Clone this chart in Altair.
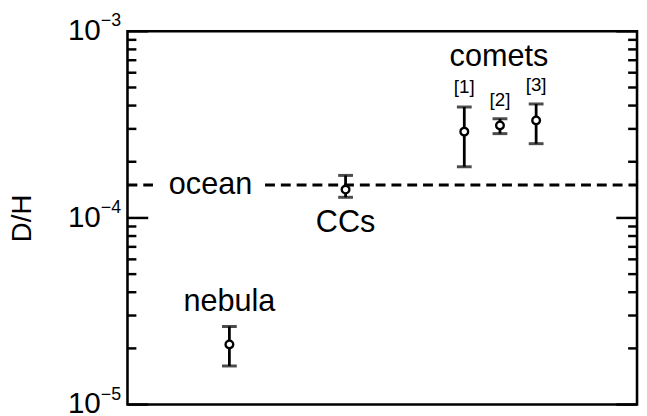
import altair as alt
import pandas as pd

# ---- data ----
names = ["nebula", "CCs", "[1]", "[2]", "[3]"]
xpos = [0.2, 0.428, 0.661, 0.731, 0.802]
dh = [2.1e-5, 1.42e-4, 2.9e-4, 3.13e-4, 3.33e-4]
dh_lo = [1.61e-5, 1.29e-4, 1.88e-4, 2.83e-4, 2.5e-4]
dh_hi = [2.62e-5, 1.69e-4, 3.93e-4, 3.4e-4, 4.08e-4]

ocean_dh = 1.5e-4
ocean_x_start = [0.0, 0.27]
ocean_x_end = [0.05, 1.0]

big_labels = ["nebula", "ocean", "CCs", "comets"]
big_x = [0.2, 0.163, 0.428, 0.729]
big_y = [3.55e-5, 1.5e-4, 9.4e-5, 7.28e-4]

ref_labels = ["[1]", "[2]", "[3]"]
ref_x = [0.661, 0.731, 0.802]
ref_y = [5.02e-4, 4.26e-4, 5.18e-4]

major_ticks = [1e-5, 1e-4, 1e-3]
major_base = ["10", "10", "10"]
major_exps = ["\u22125", "\u22124", "\u22123"]
minor_ticks = [2e-5, 3e-5, 4e-5, 5e-5, 6e-5, 7e-5, 8e-5, 9e-5,
               2e-4, 3e-4, 4e-4, 5e-4, 6e-4, 7e-4, 8e-4, 9e-4]

FONT = "Liberation Sans"
W, H = 516, 378

pts = pd.DataFrame({"name": names, "x": xpos, "dh": dh, "lo": dh_lo, "hi": dh_hi})
ocean = pd.DataFrame({"x": ocean_x_start, "x2": ocean_x_end, "y": [ocean_dh] * 2})
big = pd.DataFrame({"label": big_labels, "x": big_x, "y": big_y})
refs = pd.DataFrame({"label": ref_labels, "x": ref_x, "y": ref_y})
majors = pd.DataFrame({"v": major_ticks, "base": major_base, "exp": major_exps})
minors = pd.DataFrame({"v": minor_ticks})

yscale = alt.Scale(type="log", domain=[1e-5, 1e-3], nice=False)
xscale = alt.Scale(domain=[0, 1], nice=False, zero=False)
yaxis = alt.Axis(title="D/H", labels=False, ticks=False, domain=False,
                 grid=False, titleFontSize=28, titleFont=FONT,
                 titleFontWeight="normal", titleColor="black",
                 titlePadding=92)


def X(f="x"):
    return alt.X(f"{f}:Q", scale=xscale, axis=None)


def Y(f):
    return alt.Y(f"{f}:Q", scale=yscale, axis=yaxis)


bars = alt.Chart(pts).mark_rule(color="black", strokeWidth=2.8).encode(
    x=X(), y=Y("lo"), y2="hi:Q")
cap_lo = alt.Chart(pts).mark_tick(color="black", orient="horizontal", size=15, thickness=3).encode(
    x=X(), y=Y("lo"))
cap_hi = alt.Chart(pts).mark_tick(color="black", orient="horizontal", size=15, thickness=3).encode(
    x=X(), y=Y("hi"))
dots = alt.Chart(pts).mark_point(shape="circle", filled=True, fill="white", stroke="black",
                                 strokeWidth=2.4, size=60, opacity=1).encode(
    x=X(), y=Y("dh"))

ocean_line = alt.Chart(ocean).mark_rule(color="black", strokeWidth=3, strokeDash=[10, 6]).encode(
    x=X(), x2="x2:Q", y=Y("y"))

big_text = alt.Chart(big).mark_text(font=FONT, fontSize=31, color="black",
                                    align="center", baseline="middle").encode(
    x=X(), y=Y("y"), text="label:N")
ref_text = alt.Chart(refs).mark_text(font=FONT, fontSize=19, color="black",
                                     align="center", baseline="middle").encode(
    x=X(), y=Y("y"), text="label:N")

# inward ticks on both sides
left_minor = alt.Chart(minors).mark_rule(color="black", strokeWidth=2.5).encode(
    y=Y("v"), x=alt.value(0), x2=alt.value(9))
right_minor = alt.Chart(minors).mark_rule(color="black", strokeWidth=2.5).encode(
    y=Y("v"), x=alt.value(W - 9), x2=alt.value(W))
left_major = alt.Chart(majors).mark_rule(color="black", strokeWidth=2.5).encode(
    y=Y("v"), x=alt.value(0), x2=alt.value(21))
right_major = alt.Chart(majors).mark_rule(color="black", strokeWidth=2.5).encode(
    y=Y("v"), x=alt.value(W - 21), x2=alt.value(W))

lab_base = alt.Chart(majors).mark_text(font=FONT, fontSize=30, color="black",
                                       align="right", baseline="middle").encode(
    y=Y("v"), x=alt.value(-27), text="base:N")
lab_exp = alt.Chart(majors).mark_text(font=FONT, fontSize=18, color="black",
                                      align="left", baseline="middle", dy=-10).encode(
    y=Y("v"), x=alt.value(-27), text="exp:N")

chart = alt.layer(
    ocean_line, bars, cap_lo, cap_hi, dots, big_text, ref_text,
    left_minor, right_minor, left_major, right_major, lab_base, lab_exp,
).properties(
    width=W, height=H, autosize="none", background="white",
    padding={"left": 121, "top": 21, "right": 2, "bottom": 12},
).configure_view(stroke="black", strokeWidth=2.6)

chart.save("out.html", embed_options={"renderer": "svg", "actions": False})
